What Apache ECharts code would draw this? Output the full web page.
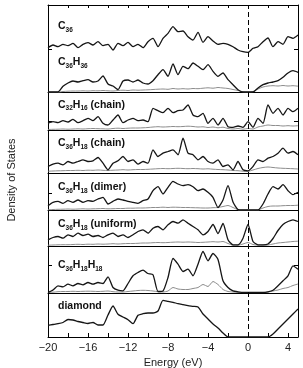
<!DOCTYPE html>
<html>
<head>
<meta charset="utf-8">
<script src="https://cdn.jsdelivr.net/npm/echarts@6/dist/echarts.min.js"></script>
<style>
  html, body { margin: 0; padding: 0; background: #fff; }
  #chart { width: 303px; height: 368px; }
</style>
</head>
<body>
<div id="chart"></div>
<script>
// energy grid (eV)
var energy = [-20, -19.5, -19, -18.5, -18, -17.5, -17, -16.5, -16, -15.5,
  -15, -14.5, -14, -13.5, -13, -12.5, -12, -11.5, -11, -10.5,
  -10, -9.5, -9, -8.5, -8, -7.5, -7, -6.5, -6, -5.5,
  -5, -4.5, -4, -3.5, -3, -2.5, -2, -1.5, -1, -0.5,
  0, 0.5, 1, 1.5, 2, 2.5, 3, 3.5, 4, 4.5, 5];

// total DOS (black) per structure, arbitrary units
var dosC36 = [4.3, 7, 5.3, 7.7, 6.3, 8.7, 4.3, 7.7, 9.3, 7,
  10.3, 6.3, 7.7, 2, 8.7, 6.3, 9.7, 5.3, 7.7, 4.3,
  10.3, 13.7, 5.3, 13.7, 18.7, 25.3, 20.3, 21, 15.3, 12,
  19.7, 9.7, 15.3, 11, 7.7, 8.7, 7.7, 5.3, 2, 0.3,
  -0.3, 3.7, 5.3, 10.3, 14, 5.3, 10.3, 7.7, 15.3, 13.7, 17];
var dosC36H36 = [0, 0, 0, 5.7, 9, 11, 10, 11.3, 12.3, 10,
  11, 16, 8, 6, 2.5, 11, 12, 10, 12, 9,
  8, 11.3, 17.3, 22.3, 15.7, 28, 17.3, 25.7, 23.3, 29,
  25.7, 22.3, 27.3, 20.7, 15.7, 19, 12.3, 7.3, 2.3, 0,
  0, 0, 4, 7.3, 9, 10, 11.3, 14.7, 19, 21.3, 19.7];
var dosC32H16chain = [6.7, 8.3, 7.3, 9.3, 8, 10.7, 7.3, 9.3, 11.7, 9.3,
  13.3, 6.7, 5, 10, 15, 7.3, 10, 11.7, 9.3, 10,
  8.3, 21.7, 19.3, 17.3, 21.7, 17.3, 19.3, 20, 25, 15,
  13.3, 16.7, 6.7, 11.7, 5, 11.7, 3.3, 2.7, 4, 2.7,
  8.3, 2.7, 11.7, 6.7, 25, 16.7, 21.7, 15, 21.7, 18.3, 21.7];
var dosC36H18chain = [5, 7.3, 8.3, 6.7, 10, 8.3, 10, 11.7, 10, 10.7,
  14, 8.3, 1.7, 8.3, 10.7, 15, 10, 11.7, 7.3, 10,
  8.3, 21.7, 15, 18.3, 20, 21.7, 16.7, 33.3, 18.3, 16.7,
  11.7, 15, 10, 8.3, 11.7, 5, 6.7, 1.7, 10, 1.7,
  0.7, 5, 11.7, 10, 13.3, 15, 18.3, 23.3, 18.3, 20, 16.7];
var dosC36H18dimer = [4.3, 7.7, 8.7, 6.7, 9.3, 7.7, 10, 7.7, 9.3, 8.7,
  11, 12.7, 6, 8.7, 11, 10, 8.7, 7.7, 6.7, 9.3,
  11, 19.3, 23.3, 16, 22.7, 28.7, 26, 24.3, 25.3, 23.3,
  19.3, 21, 17.7, 12.7, 2.5, 10, 24.3, 8, 0.5, 0,
  0, 0, 0, 6, 16, 23.3, 21, 25.3, 19.3, 15.3, 17.7];
var dosC36H18uniform = [5.7, 8, 9, 7.3, 10.7, 9, 12.3, 10, 11.3, 9,
  10, 8, 10.7, 12.3, 9, 10.7, 8, 10.7, 14, 15.7,
  12.3, 17.3, 19, 15.7, 20.7, 24, 22.3, 25.7, 22.3, 19,
  15.7, 10.7, 14, 21, 12, 22, 5.7, 0.7, 0.7, 7.3,
  21, 4, 0.7, 0.7, 1.5, 7, 15, 21, 24, 25.7, 24];
var dosC36H18H18 = [0, 2.5, 6.7, 5.7, 8.3, 6.7, 9, 7.7, 10, 8.3,
  10, 9, 15.7, 5, 2.3, 1.7, 9, 16.7, 20, 22.3,
  19, 17.7, 1, 1.5, 15, 34, 28.3, 21, 23.3, 16.7,
  28.3, 41, 31.7, 39, 33, 11.7, 5, 1.7, 0.7, 0,
  0, 0, 0, 0, 0.7, 2.3, 6.7, 11.7, 16.7, 26.7, 23.3];
var dosDiamond = [11.7, 12.5, 13.3, 14.5, 17.5, 17, 15.5, 14.5, 13.5, 14.5,
  12, 12, 22, 31, 22.7, 20, 17.3, 13.3, 21.7, 23.3,
  24, 24, 26, 36.7, 35.7, 34.7, 33.3, 32.3, 31.3, 30.7,
  30, 23, 18, 13, 9, 4, 0, 0, 0, 0,
  0, 0, 0, 0, 0, 3, 8, 13, 18, 23, 28];

// projected DOS (grey)
var pdosC36H36 = [0, 0, 0, 0.5, 0.8, 1, 1, 1.2, 1, 1.3,
  1.2, 1.5, 1.2, 1, 1.5, 1.8, 1.5, 2, 1.8, 2,
  2.2, 2.5, 2.8, 3, 2.7, 3.5, 3, 3.3, 3, 3.5,
  3.3, 3.8, 4.2, 3.8, 4.5, 4, 3.5, 2.5, 1.5, 0.3,
  0, 0.5, 3, 5, 6, 6.3, 6, 6.5, 6, 6.3, 5.8];
var pdosC32H16chain = [0.5, 0.7, 0.8, 1, 0.8, 1, 1.2, 1, 1.3, 1.5,
  1.3, 1.2, 1, 1.5, 1.8, 1.5, 1.8, 2, 2, 2.2,
  2.5, 3, 3.3, 3, 3.2, 3.5, 3.3, 3.5, 3.8, 3.5,
  3, 3.2, 2.5, 3, 2.2, 2.8, 1.5, 1, 1.5, 0.8,
  1.5, 1, 3, 4, 5, 4.5, 4.5, 4, 4.3, 4, 4.3];
var pdosC36H18chain = [0.3, 0.5, 0.7, 0.8, 1, 1, 1.2, 1, 1.3, 1.2,
  1.5, 1.2, 1, 1.3, 1.5, 1.8, 1.5, 1.8, 2, 2,
  2.2, 2.5, 2.8, 3, 2.8, 3, 3.2, 3, 2.8, 3,
  2.8, 2.5, 2.7, 2.3, 2, 1.8, 1.5, 1, 0.8, 0.3,
  0.2, 1.5, 3, 4, 4.5, 4, 3.5, 3.2, 3, 2.8, 2.5];
var pdosC36H18dimer = [0.3, 0.5, 0.7, 0.8, 1, 0.8, 1, 1.2, 1, 1.2,
  1.3, 1.5, 1.2, 1.3, 1.5, 1.5, 1.8, 1.8, 2, 2,
  2.2, 2.5, 2.5, 2.8, 2.5, 2.8, 2.7, 2.5, 2.5, 2.3,
  2.2, 2, 2, 2.3, 2.5, 3.5, 4.5, 2.5, 0.3, 0,
  0, 0, 0, 2, 3.5, 4, 4, 4.3, 4.5, 4.5, 4.8];
var pdosC36H18uniform = [0.3, 0.5, 0.7, 0.8, 0.8, 1, 1.2, 1, 1.3, 1.2,
  1.5, 1.3, 1.5, 1.8, 1.5, 1.8, 2, 2, 2.2, 2.5,
  2.5, 2.8, 3, 2.8, 3, 3.3, 3.5, 3.3, 3.5, 3.3,
  3, 3.2, 3.5, 3.8, 3.5, 4, 2, 0.3, 0.3, 1.5,
  3, 1, 0.3, 0.3, 0.5, 1.5, 2.5, 3, 3.5, 4, 4.3];
var pdosC36H18H18 = [0, 0.3, 0.8, 1, 1, 1.2, 1, 1.2, 1.3, 1.2,
  1, 1.2, 1.5, 0.8, 0.5, 0.5, 1, 1.5, 2, 2.2,
  2, 1.5, 0.8, 0.5, 1.5, 5, 3.5, 3, 3, 4,
  5, 8, 6, 11, 8, 3, 1, 0.5, 0, 0,
  0, 0, 0, 0, 0.5, 1.5, 2.5, 4, 5, 7, 8.5];

var panelNames = [
  '{n|C}{s|36}',
  '{n|C}{s|36}{n|H}{s|36}',
  '{n|C}{s|32}{n|H}{s|16}{n| (chain)}',
  '{n|C}{s|36}{n|H}{s|18}{n| (chain)}',
  '{n|C}{s|36}{n|H}{s|18}{n| (dimer)}',
  '{n|C}{s|36}{n|H}{s|18}{n| (uniform)}',
  '{n|C}{s|36}{n|H}{s|18}{n|H}{s|18}',
  '{n|diamond}'
];
var totalDos = [dosC36, dosC36H36, dosC32H16chain, dosC36H18chain,
  dosC36H18dimer, dosC36H18uniform, dosC36H18H18, dosDiamond];
var partialDos = [null, pdosC36H36, pdosC32H16chain, pdosC36H18chain,
  pdosC36H18dimer, pdosC36H18uniform, pdosC36H18H18, null];

// panel layout (px)
var panelTop    = [5, 47, 92, 130, 173, 210, 246, 293];
var panelBottom = [54, 92, 130, 173, 210, 246, 293, 337];
var panelZero   = [2, 0, 0, 1.5, 0, 0.5, 0.5, 0];
var panelLine   = [false, true, true, true, true, true, true, false];
var labelTop    = [19.5, 55.5, 98, 136.5, 180.5, 217.5, 258.5, 299.5];

var FONT = '"Liberation Sans", Arial, sans-serif';
var PLOT_L = 48, PLOT_W = 250;

function pairs(ys) {
  return energy.map(function (e, i) { return [e, ys[i]]; });
}

var grids = [{ left: PLOT_L, top: 5, width: PLOT_W, height: 332, outerBoundsMode: 'none', containLabel: false }];
var xAxes = [
  {
    gridIndex: 0, type: 'value', min: -20, max: 5, interval: 2, position: 'bottom',
    axisLine: { show: true, onZero: false, lineStyle: { color: '#000', width: 1 } },
    axisTick: { show: true, inside: true, length: 4, lineStyle: { color: '#000' } },
    axisLabel: {
      margin: 5, color: '#222', fontSize: 11, fontFamily: FONT,
      formatter: function (v) {
        if (Math.abs(v) % 4 !== 0) return '';
        return v < 0 ? '\u2212' + Math.abs(v) : String(v);
      }
    },
    splitLine: { show: false },
    name: 'Energy (eV)', nameLocation: 'middle', nameGap: 17,
    nameTextStyle: { color: '#222', fontSize: 11, fontFamily: FONT }
  },
  {
    gridIndex: 0, type: 'value', min: -20, max: 5, interval: 2, position: 'top',
    axisLine: { show: true, onZero: false, lineStyle: { color: '#000', width: 1 } },
    axisTick: { show: true, inside: true, length: 3, lineStyle: { color: '#000' } },
    axisLabel: { show: false }, splitLine: { show: false }
  }
];
var yAxes = [
  {
    gridIndex: 0, type: 'value', min: 0, max: 4.61, interval: 1, position: 'left',
    axisLine: { show: true, onZero: false, lineStyle: { color: '#000', width: 1 } },
    axisTick: { show: true, inside: true, length: 4, lineStyle: { color: '#000' } },
    axisLabel: { show: false }, splitLine: { show: false }
  },
  {
    gridIndex: 0, type: 'value', min: 0, max: 4.61, interval: 1, position: 'right',
    axisLine: { show: true, onZero: false, lineStyle: { color: '#000', width: 1 } },
    axisTick: { show: true, inside: true, length: 4, lineStyle: { color: '#000' } },
    axisLabel: { show: false }, splitLine: { show: false }
  }
];

var series = [{
  type: 'line', xAxisIndex: 0, yAxisIndex: 0, data: [[0, 0]],
  symbol: 'none', lineStyle: { opacity: 0 }, silent: true,
  markLine: {
    silent: true, symbol: ['none', 'none'], label: { show: false },
    lineStyle: { type: [5, 3], color: '#000', width: 1 },
    data: [{ xAxis: 0 }]
  }
}];

var titles = [];

for (var k = 0; k < 8; k++) {
  var h = panelBottom[k] - panelTop[k];
  grids.push({ left: PLOT_L, top: panelTop[k], width: PLOT_W, height: h, outerBoundsMode: 'none', containLabel: false });
  xAxes.push({
    gridIndex: k + 1, type: 'value', min: -20, max: 5, position: 'bottom',
    axisLine: { show: panelLine[k], onZero: false, lineStyle: { color: '#000', width: 1 } },
    axisTick: { show: false }, axisLabel: { show: false }, splitLine: { show: false }
  });
  yAxes.push({
    gridIndex: k + 1, type: 'value', show: false,
    min: -panelZero[k], max: h - panelZero[k]
  });
  if (partialDos[k]) {
    series.push({
      type: 'line', xAxisIndex: k + 2, yAxisIndex: k + 2, data: pairs(partialDos[k]),
      symbol: 'none', clip: false, silent: true, smooth: 0.2,
      lineStyle: { color: '#8c8c8c', width: 1 }
    });
  }
  series.push({
    type: 'line', xAxisIndex: k + 2, yAxisIndex: k + 2, data: pairs(totalDos[k]),
    symbol: 'none', clip: false, silent: true, smooth: 0.2,
    lineStyle: { color: '#151515', width: 1.3, join: 'round' }
  });
  titles.push({
    text: panelNames[k], left: 58, top: labelTop[k], padding: 0,
    textStyle: {
      rich: {
        n: { fontSize: 10.5, fontWeight: 'bold', fontFamily: FONT, color: '#111', lineHeight: 14 },
        s: { fontSize: 6.5, fontWeight: 'bold', fontFamily: FONT, color: '#111', lineHeight: 7, verticalAlign: 'bottom' }
      }
    }
  });
}

var chart = echarts.init(document.getElementById('chart'), null, { renderer: 'canvas' });
chart.setOption({
  animation: false,
  backgroundColor: '#fff',
  title: titles,
  grid: grids,
  xAxis: xAxes,
  yAxis: yAxes,
  series: series,
  graphic: [{
    type: 'text', x: 12, y: 180, rotation: Math.PI / 2,
    style: {
      text: 'Density of States', fill: '#222',
      font: '11px ' + FONT, textAlign: 'center', textVerticalAlign: 'middle'
    }
  }]
});
</script>
</body>
</html>
